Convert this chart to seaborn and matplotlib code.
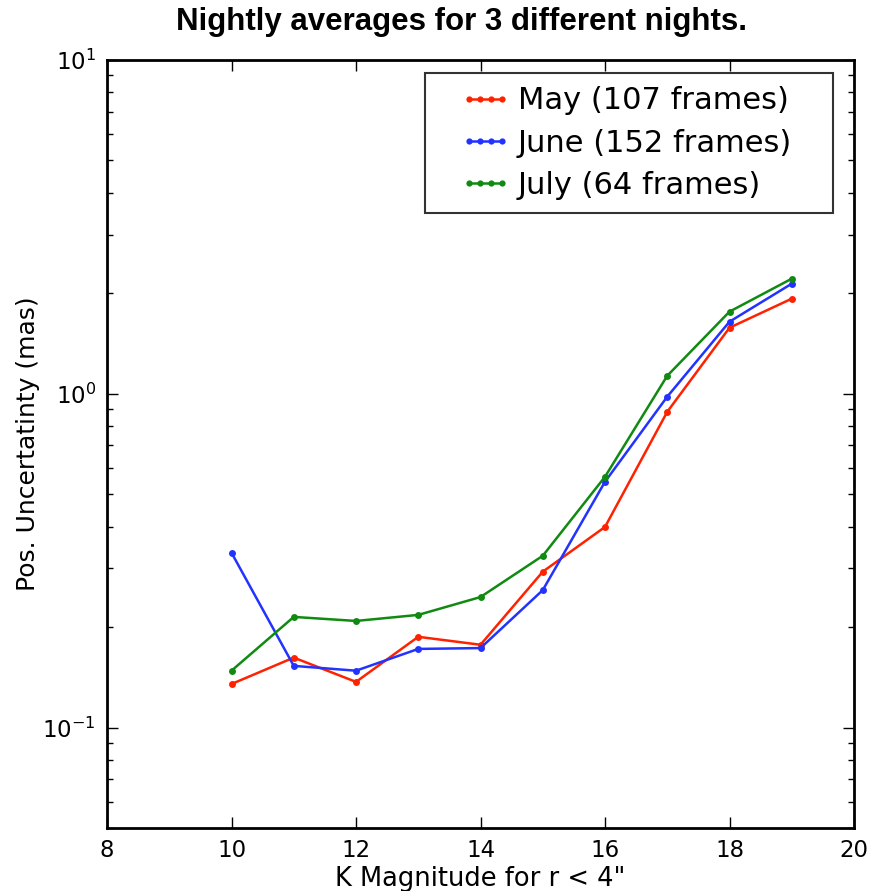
import numpy as np
import pandas as pd
import seaborn as sns
import matplotlib
matplotlib.use("Agg")
import matplotlib.pyplot as plt
from matplotlib.ticker import LogLocator
from matplotlib.lines import Line2D
from matplotlib.legend_handler import HandlerLine2D

# ---- data ----
k_mag = [10, 11, 12, 13, 14, 15, 16, 17, 18, 19]
may = [0.135, 0.162, 0.137, 0.187, 0.177, 0.293, 0.399, 0.883, 1.577, 1.927]
june = [0.334, 0.153, 0.148, 0.172, 0.173, 0.258, 0.545, 0.980, 1.644, 2.137]
july = [0.148, 0.2145, 0.2086, 0.2175, 0.246, 0.327, 0.564, 1.132, 1.762, 2.212]
labels = ["May (107 frames)", "June (152 frames)", "July (64 frames)"]
colors = ["#ff2200", "#2233ff", "#108a10"]
x_ticks = [8, 10, 12, 14, 16, 18, 20]

rows = []
for lab, vals in zip(labels, [may, june, july]):
    for x, v in zip(k_mag, vals):
        rows.append({"K": x, "unc": v, "night": lab})
df = pd.DataFrame(rows)

sns.set_style("ticks")
plt.rcParams['font.family'] = ['DejaVu Sans']
plt.rcParams['axes.unicode_minus'] = False
plt.rcParams['text.color'] = 'black'
plt.rcParams['axes.labelcolor'] = 'black'
plt.rcParams['xtick.color'] = 'black'
plt.rcParams['ytick.color'] = 'black'

fig = plt.figure(figsize=(8.8, 8.91), dpi=100)
ax = fig.add_axes([107/880, 1 - 828/891, (854-107)/880, (828-60)/891])

sns.lineplot(data=df, x="K", y="unc", hue="night", palette=colors,
             hue_order=labels, marker="o", markersize=5, markeredgewidth=0,
             linewidth=1.8, ax=ax, legend=False)

ax.set_yscale("log")
ax.set_xlim(8, 20)
ax.set_ylim(0.05, 10)
ax.set_xticks(x_ticks)
ax.yaxis.set_major_locator(LogLocator(base=10, numticks=10))
ax.yaxis.set_minor_locator(LogLocator(base=10, subs=np.arange(2, 10), numticks=20))

ax.tick_params(which="both", direction="in", top=True, right=True)
ax.tick_params(which="major", length=8, width=1, labelsize=16.5, pad=8)
ax.tick_params(which="minor", length=4, width=1)
for s in ax.spines.values():
    s.set_linewidth(2)
    s.set_color("black")

ax.set_xlabel('K Magnitude for r < 4"', fontsize=18.5, labelpad=3)
ax.set_ylabel("Pos. Uncertatinty (mas)", fontsize=18, labelpad=2)
fig.suptitle("Nightly averages for 3 different nights.", fontsize=22.5,
             fontweight="bold", family=["Liberation Sans Narrow", "Liberation Sans"],
             x=0.524, y=0.992)


class ShiftedHandler(HandlerLine2D):
    def get_xdata(self, legend, xdescent, ydescent, width, height, fontsize):
        xd, xdm = super().get_xdata(legend, xdescent, ydescent, width, height, fontsize)
        lo, hi = -xdescent, -xdescent + width
        shift = 0.8 * fontsize
        f = lambda a: lo + shift + (np.asarray(a) - lo) * (hi - lo - shift) / (hi - lo)
        return f(xd), f(xdm)


handles = [Line2D([0], [0], color=c, linewidth=1.8, marker="o", markersize=4.5,
                  markeredgewidth=0) for c in colors]
x0 = (425 - 107) / 747
x1 = (833 - 107) / 747
ytop = (828 - 73) / 768
leg = ax.legend(handles, labels, loc="upper left", fontsize=22, frameon=True,
                fancybox=False, edgecolor="black", numpoints=4,
                handlelength=2.27, handletextpad=0.33, borderpad=0.44,
                labelspacing=0.43, borderaxespad=0, mode="expand",
                bbox_to_anchor=(x0, ytop - 0.2, x1 - x0, 0.2),
                handler_map={Line2D: ShiftedHandler()})
leg.get_frame().set_linewidth(1.5)

fig.savefig("out.png", dpi=100, facecolor="white")
